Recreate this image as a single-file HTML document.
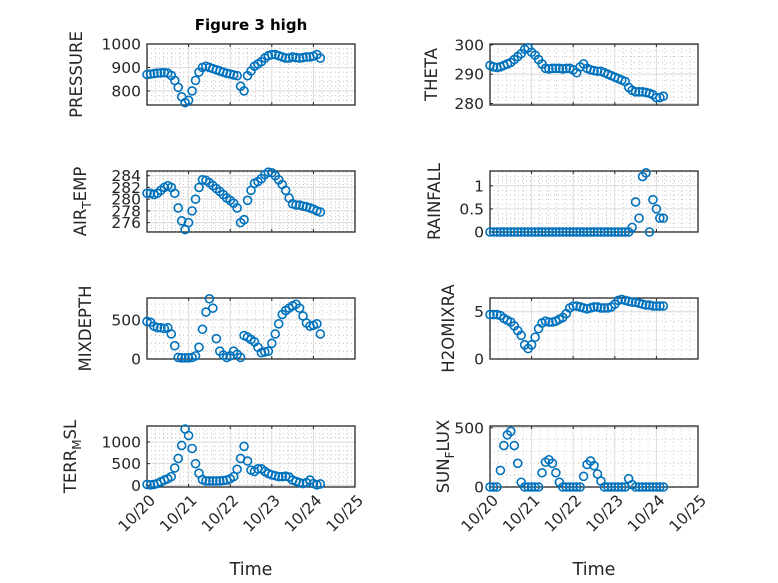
<!DOCTYPE html>
<html><head><meta charset="utf-8"><style>
html,body{margin:0;padding:0;background:#fff;}
svg{display:block;font-family:"DejaVu Sans","Liberation Sans",sans-serif;}
</style></head><body>
<svg id="fig" width="778" height="583" viewBox="0 0 778 583" xmlns="http://www.w3.org/2000/svg">
<rect x="0" y="0" width="778" height="583" fill="#fff"/>
<text x="251" y="30" text-anchor="middle" font-size="15" font-weight="bold" fill="#000">Figure 3 high</text>
</svg>
<script>
const hours = [0,2,4,6,8,10,12,14,16,18,20,22,24,26,28,30,32,34,36,38,40,42,44,46,48,50,52,54,56,58,60,62,64,66,68,70,72,74,76,78,80,82,84,86,88,90,92,94,96,98,100];
const pressure = [870,872,874,876,877,878,876,866,845,815,775,750,760,800,845,880,900,905,900,895,890,885,880,875,872,868,865,820,800,865,885,905,915,925,940,950,955,955,950,945,940,940,945,942,940,942,945,945,948,955,940];
const theta = [293,292.5,292.3,292.5,293,293.5,294,295,296,297,298.5,299,297.5,296.5,295,293.5,292,291.8,292,292,292,291.8,292,292,291.5,290.5,292.5,293.5,292,291.5,291.2,291,291,290.5,290,289.5,289,288.5,288,287.5,285.5,284.5,284,284,284,283.8,283.5,283,282,282,282.5];
const airTemp = [281,281,280.8,281,281.5,282,282.3,282,281,278.5,276.3,274.8,276,278,280,282,283.3,283.2,282.8,282.3,281.8,281.3,280.8,280.2,279.8,279.3,278.5,276,276.5,279.8,281.5,282.7,283,283.5,284.2,284.6,284.5,284,283.3,282.5,281.5,280.2,279.2,279,279,278.8,278.7,278.5,278.3,278,277.8];
const rainfall = [0,0,0,0,0,0,0,0,0,0,0,0,0,0,0,0,0,0,0,0,0,0,0,0,0,0,0,0,0,0,0,0,0,0,0,0,0,0,0,0,0,0.1,0.65,0.3,1.2,1.28,0,0.7,0.5,0.3,0.3];
const mixDepth = [480,470,420,400,400,390,400,320,170,20,15,15,15,20,40,150,380,600,770,650,260,100,50,20,40,100,60,20,300,280,250,220,150,80,90,100,200,320,450,570,620,650,680,700,650,550,460,420,430,450,320];
const h2oMix = [4.7,4.7,4.7,4.6,4.3,4.1,3.9,3.5,3.0,2.5,1.5,1.1,1.5,2.3,3.2,3.8,4.0,3.9,3.9,4.0,4.2,4.4,4.8,5.4,5.6,5.6,5.5,5.4,5.3,5.4,5.5,5.5,5.4,5.4,5.4,5.5,5.8,6.2,6.3,6.2,6.1,6.0,6.0,5.9,5.8,5.7,5.7,5.6,5.6,5.6,5.6];
const terrMsl = [20,10,20,40,80,120,150,200,400,620,920,1300,1150,850,500,280,130,100,100,100,100,100,110,120,150,200,370,620,900,560,350,320,380,380,320,270,240,220,200,200,210,190,120,90,60,40,60,120,40,10,30];
const sunFlux = [0,0,0,140,350,440,470,350,200,40,0,0,0,0,0,120,210,230,200,120,40,0,0,0,0,0,0,90,190,220,180,110,50,0,0,0,0,0,0,0,70,20,0,0,0,0,0,0,0,0,0];
const xTickLabels = ["10/20","10/21","10/22","10/23","10/24","10/25"];
const pressureTicks = [800,900,1000];
const thetaTicks = [280,290,300];
const airTempTicks = [276,278,280,282,284];
const rainTicks = [0,0.5,1];
const mixTicks = [0,500];
const h2oTicks = [0,5];
const terrTicks = [0,500,1000];
const sunTicks = [0,500];

const NS = "http://www.w3.org/2000/svg";
const svg = document.getElementById('fig');
function mk(tag, attrs, parent){
  const e = document.createElementNS(NS, tag);
  for (const k in attrs) e.setAttribute(k, attrs[k]);
  (parent||svg).appendChild(e);
  return e;
}
const W = 208, H = 61;
const panels = [
  {key:'pressure', x:147, y:44, data:pressure, ymin:740, ymax:1000, ticks:pressureTicks, minor:20, label:['PRESSURE'], lx:82, xlab:false},
  {key:'theta', x:490, y:44, data:theta, ymin:279.5, ymax:300.3, ticks:thetaTicks, minor:2, label:['THETA'], lx:437, xlab:false},
  {key:'air-temp', x:147, y:171, data:airTemp, ymin:274.4, ymax:284.8, ticks:airTempTicks, minor:0.5, label:['AIR','T','EMP'], lx:86, xlab:false},
  {key:'rainfall', x:490, y:171, data:rainfall, ymin:0, ymax:1.32, ticks:rainTicks, minor:0.1, label:['RAINFALL'], lx:440, xlab:false},
  {key:'mixdepth', x:147, y:298, data:mixDepth, ymin:0, ymax:780, ticks:mixTicks, minor:100, label:['MIXDEPTH'], lx:91, xlab:false},
  {key:'h2omixra', x:490, y:298, data:h2oMix, ymin:0, ymax:6.45, ticks:h2oTicks, minor:1, label:['H2OMIXRA'], lx:454, xlab:false},
  {key:'terr-msl', x:147, y:426, data:terrMsl, ymin:-40, ymax:1370, ticks:terrTicks, minor:100, label:['TERR','M','SL'], lx:76, xlab:true},
  {key:'sun-flux', x:490, y:426, data:sunFlux, ymin:0, ymax:515, ticks:sunTicks, minor:100, label:['SUN','F','LUX'], lx:449, xlab:true}
];
panels.forEach(p=>{
  const g = mk('g', {});
  
  
  const xs = h => p.x + (h/24)/5*W;
  const ys = v => p.y + H - (v - p.ymin)/(p.ymax - p.ymin)*H;
  for (let d=0; d<5; d++) for (let m=1; m<5; m++){
    const gx = p.x + (d + m/5)/5*W;
    const l = mk('line', {x1:gx, x2:gx, y1:p.y, y2:p.y+H, stroke:'#c8c8c8', 'stroke-width':1, 'stroke-dasharray':'1,3'}, g);
    
    
  }
  const vStart = Math.ceil(p.ymin/p.minor)*p.minor;
  for (let v=vStart; v<=p.ymax+1e-9; v+=p.minor){
    const gy = ys(v);
    const l = mk('line', {x1:p.x, x2:p.x+W, y1:gy, y2:gy, stroke:'#c8c8c8', 'stroke-width':1, 'stroke-dasharray':'1,3'}, g);
    
    
  }
  for (let d=1; d<5; d++){
    const gx = p.x + d/5*W;
    const l = mk('line', {x1:gx, x2:gx, y1:p.y, y2:p.y+H, stroke:'#dcdcdc', 'stroke-width':1}, g);
    
    
  }
  p.ticks.forEach(v=>{
    const gy = ys(v);
    const l = mk('line', {x1:p.x, x2:p.x+W, y1:gy, y2:gy, stroke:'#dcdcdc', 'stroke-width':1}, g);
    
    
    const t = mk('text', {x:p.x-6, y:gy+5.5, 'text-anchor':'end', 'font-size':15.5, fill:'#262626'}, g);
    t.textContent = String(v);
    
    
    const tk = mk('line', {x1:p.x, x2:p.x+3, y1:gy, y2:gy, stroke:'#262626', 'stroke-width':1}, g);
    
    
  });
  xTickLabels.forEach((lab,i)=>{
    const gx = p.x + i/5*W;
    const tk = mk('line', {x1:gx, x2:gx, y1:p.y+H, y2:p.y+H-3, stroke:'#262626', 'stroke-width':1}, g);
    
    
    const tk2 = mk('line', {x1:gx, x2:gx, y1:p.y, y2:p.y+3, stroke:'#262626', 'stroke-width':1}, g);
    
    
    if (p.xlab){
      const ty = p.y + H + 10;
      const t = mk('text', {x:gx+5, y:ty+6, 'text-anchor':'end', 'font-size':15.5, fill:'#262626', transform:'rotate(-45 '+(gx+5)+' '+(ty)+')'}, g);
      t.textContent = lab;
      
      
    }
  });
  const box = mk('rect', {x:p.x, y:p.y, width:W, height:H, fill:'none', stroke:'#262626', 'stroke-width':1.3}, g);
  
  
  const cy = p.y + H/2;
  const yl = mk('text', {x:p.lx, y:cy, 'text-anchor':'middle', 'font-size':16.5, fill:'#262626', transform:'rotate(-90 '+p.lx+' '+cy+')'}, g);
  
  
  if (p.label.length === 1){ yl.textContent = p.label[0]; }
  else {
    const a = mk('tspan', {}, yl); a.textContent = p.label[0];
    const b = mk('tspan', {dy:5, 'font-size':12}, yl); b.textContent = p.label[1];
    const c = mk('tspan', {dy:-5}, yl); c.textContent = p.label[2];
  }
  if (p.xlab){
    const xt = mk('text', {x:p.x+W/2, y:575, 'text-anchor':'middle', 'font-size':17.5, fill:'#262626'}, g);
    xt.textContent = 'Time';
    
    
  }
  const mg = mk('g', {}, g);
  
  
  hours.forEach((h,i)=>{
    const c = mk('circle', {cx:xs(h), cy:ys(p.data[i]), r:4, fill:'none', stroke:'#0072BD', 'stroke-width':1.6}, mg);
    
    
  });
});
</script>
</body></html>
